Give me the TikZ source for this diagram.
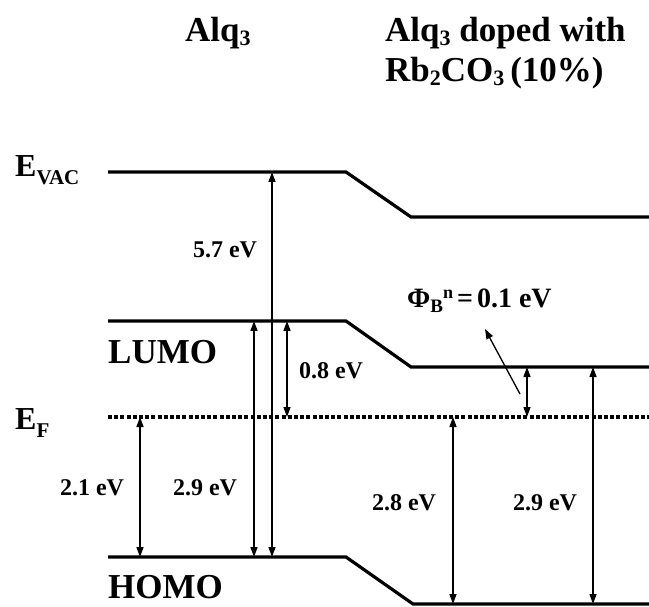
\documentclass[tikz,border=0pt]{standalone}
\usepackage{fontspec}
\setmainfont{Liberation Serif}
\usetikzlibrary{arrows.meta}
\tikzset{
  level/.style={line width=3.2pt},
  fermi/.style={line width=3.2pt, dash pattern=on 4pt off 2.2pt},
  gap/.style={line width=1.3pt, {Triangle[length=10pt,width=7pt]}-{Triangle[length=10pt,width=7pt]}},
  pointer/.style={line width=1.3pt, -{Triangle[length=10pt,width=7pt]}},
  val/.style={font=\bfseries\fontsize{24}{26}\selectfont, inner sep=0pt},
  big/.style={font=\bfseries\fontsize{35}{38}\selectfont, inner sep=0pt, anchor=base west},
  ttl/.style={font=\bfseries\fontsize{35}{38}\selectfont, inner sep=0pt, anchor=base west}
}
\begin{document}
\begin{tikzpicture}[x=1pt,y=-1pt]
\useasboundingbox (0,0) rectangle (649,607);
% levels
\coordinate (v1) at (108,172); \coordinate (v2) at (346,172); \coordinate (v3) at (411,217); \coordinate (v4) at (649,217);
\coordinate (l1) at (108,321); \coordinate (l2) at (346,321); \coordinate (l3) at (411,367); \coordinate (l4) at (649,367);
\coordinate (f1) at (108,417); \coordinate (f2) at (649,417);
\coordinate (h1) at (108,557); \coordinate (h2) at (346,557); \coordinate (h3) at (413,604); \coordinate (h4) at (649,604);
\draw[level] (v1) -- (v2) -- (v3) -- (v4);
\draw[level] (l1) -- (l2) -- (l3) -- (l4);
\draw[level] (h1) -- (h2) -- (h3) -- (h4);
\draw[fermi] (f1) -- (f2);
% arrows
\coordinate (a21t) at (140,417); \coordinate (a21b) at (140,557);
\coordinate (a29t) at (254,321); \coordinate (a29b) at (254,557);
\coordinate (a57t) at (272,172); \coordinate (a57b) at (272,557);
\coordinate (a08t) at (287,321); \coordinate (a08b) at (287,417);
\coordinate (a28t) at (453,417); \coordinate (a28b) at (453,604);
\coordinate (aPt) at (527,367); \coordinate (aPb) at (527,417);
\coordinate (a29Rt) at (593,367); \coordinate (a29Rb) at (593,604);
\draw[gap] (a21t) -- (a21b);
\draw[gap] (a29t) -- (a29b);
\draw[gap] (a57t) -- (a57b);
\draw[gap] (a08t) -- (a08b);
\draw[gap] (a28t) -- (a28b);
\draw[gap] (aPt) -- (aPb);
\draw[gap] (a29Rt) -- (a29Rb);
\coordinate (p1) at (520,394); \coordinate (p2) at (485,329);
\draw[pointer] (p1) -- (p2);
% value labels
\node[val] (t57) at (225,250) {5.7 eV};
\node[val] (t29) at (205,488) {2.9 eV};
\node[val] (t21) at (92,488) {2.1 eV};
\node[val] (t08) at (331,371) {0.8 eV};
\node[val] (t28) at (404,503) {2.8 eV};
\node[val] (t29R) at (545,503) {2.9 eV};
\node[val, font=\bfseries\fontsize{28}{30}\selectfont, anchor=base west] (tphi) at (407,308)
  {Φ\raisebox{-5pt}{\fontsize{19}{20}\selectfont B}\raisebox{9pt}{\fontsize{18}{20}\selectfont n}\hspace{4pt}=\hspace{4pt}0.1 eV};
% names
\node[big, font=\bfseries\fontsize{32}{36}\selectfont] (evac) at (15,177) {E\raisebox{-8pt}{\fontsize{21}{22}\selectfont VAC}};
\node[big, font=\bfseries\fontsize{32}{36}\selectfont] (ef) at (15,429) {E\raisebox{-8pt}{\fontsize{21}{22}\selectfont F}};
\node[big] (lumo) at (108,363) {LUMO};
\node[big] (homo) at (108,598) {HOMO};
% titles
\node[ttl] (t1) at (185,42) {Alq\raisebox{-4pt}{\fontsize{22}{24}\selectfont 3}};
\node[ttl] (t2) at (385,42) {Alq\raisebox{-4pt}{\fontsize{22}{24}\selectfont 3} doped with};
\node[ttl] (t3) at (385,82) {Rb\raisebox{-4pt}{\fontsize{22}{24}\selectfont 2}CO\raisebox{-4pt}{\fontsize{22}{24}\selectfont 3}\,(10\%)};
\end{tikzpicture}
\end{document}
